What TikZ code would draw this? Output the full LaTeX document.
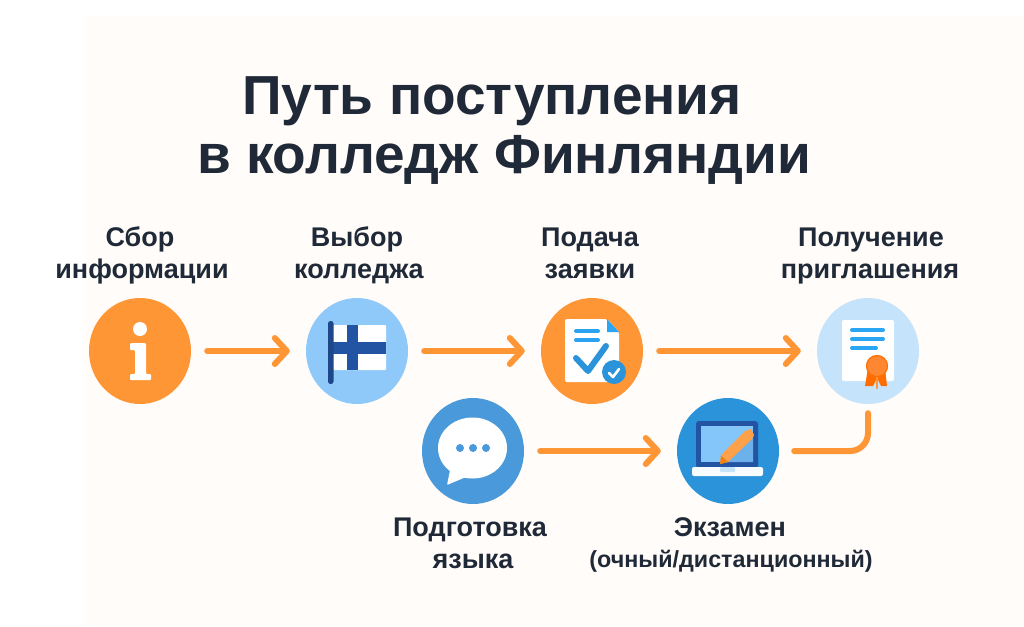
\documentclass[tikz,border=0pt]{standalone}
\usepackage{fontspec}
\setmainfont{Liberation Sans}
\usetikzlibrary{arrows.meta,shapes.geometric,calc}
\definecolor{panel}{HTML}{FFFCF9}
\definecolor{ink}{HTML}{1F2937}
\definecolor{org}{HTML}{FF9636}
\definecolor{skyb}{HTML}{8EC9F9}
\definecolor{pale}{HTML}{C5E3FA}
\definecolor{midb}{HTML}{4A9ADB}
\definecolor{deepb}{HTML}{2B93D9}
\definecolor{navy}{HTML}{2353A3}
\definecolor{linb}{HTML}{2BA6F5}
\tikzset{
  icon/.style={ellipse,minimum width=102pt,minimum height=106pt,inner sep=0pt,draw=none},
  lab/.style={font=\fontsize{27}{32}\selectfont\bfseries,text=ink,inner sep=0pt,anchor=base},
  ttl/.style={font=\fontsize{55}{65}\selectfont\bfseries,text=ink,inner sep=0pt,anchor=base},
  flow/.style={draw=org,line width=6pt,line cap=round,line join=round,shorten <=16pt,shorten >=16pt,-{Straight Barb[length=12pt,width=26pt,line width=6pt,round]}},
  elbow/.style={draw=org,line width=6pt,line cap=round,rounded corners=18pt},
}
\begin{document}
\begin{tikzpicture}[x=1pt,y=-1pt]
\useasboundingbox (0,0) rectangle (1024,626);
\fill[white] (0,0) rectangle (1024,626);
\fill[panel] (84,16) rectangle (1024,626);
\node[ttl] (t1) at (492,114) {Путь поступления};
\node[ttl] (t2) at (504,173) {в колледж Финляндии};
\node[icon,fill=org] (info) at (140,351) {};
\node[icon,fill=skyb] (flag) at (357,351) {};
\node[icon,fill=org] (docu) at (592,351) {};
\node[icon,fill=pale] (cert) at (868,351) {};
\node[icon,fill=midb] (talk) at (473,451) {};
\node[icon,fill=deepb] (exam) at (728,451) {};
\node[lab] (l1a) at (140,246) {Сбор};
\node[lab] (l1b) at (142,278) {информации};
\node[lab] (l2a) at (357,246) {Выбор};
\node[lab] (l2b) at (359,278) {колледжа};
\node[lab] (l3a) at (590,246) {Подача};
\node[lab] (l3b) at (590,278) {заявки};
\node[lab] (l4a) at (871,246) {Получение};
\node[lab] (l4b) at (870,278) {приглашения};
\node[lab] (l5a) at (470,536) {Подготовка};
\node[lab] (l5b) at (473,568) {языка};
\node[lab] (l6a) at (730,536) {Экзамен};
\node[lab,font=\fontsize{23.3}{27}\selectfont\bfseries] (l6b) at (731,567) {(очный/дистанционный)};
% info icon
\fill[white] (140,329) circle (7);
\fill[white,rounded corners=1pt] (130,343) -- (146,343) -- (146,374) -- (151,374) -- (151,380) -- (130,380) -- (130,374) -- (135,374) -- (135,350) -- (130,350) -- cycle;
% flag icon
\fill[white,rounded corners=1pt] (333,325) rectangle (386,370);
\fill[navy] (347,325) rectangle (358,370);
\fill[navy] (333,342) rectangle (386,354);
\fill[navy!85!black,rounded corners=2.5pt] (328,321) rectangle (333.5,384);
% document icon
\fill[white,rounded corners=2pt] (565,319) -- (607,319) -- (619,332) -- (619,382) -- (565,382) -- cycle;
\fill[linb] (607,319) -- (619,332) -- (607,332) -- cycle;
\draw[linb!80!deepb,line width=4pt,line cap=round] (576,331) -- (598,331) (576,340) -- (598,340);
\draw[deepb,line width=6pt,line cap=round,line join=round] (576,358) -- (588,371) -- (606,346);
\fill[deepb] (614,372) circle (12);
\draw[white,line width=2.6pt,line cap=round,line join=round] (609,373) -- (613,377) -- (619,369);
% certificate icon
\fill[white,rounded corners=2pt] (842,320) rectangle (894,381);
\draw[linb,line width=4pt,line cap=round] (852,330) -- (883,330) (852,339) -- (883,339) (852,348) -- (876,348);
\fill[orange!85!red] (868,368) -- (865,386) -- (873,386) -- (877,378) -- (881,386) -- (887,386) -- (885,368) -- cycle;
\draw[org,line width=2.5pt,line cap=round] (877,376) -- (877,388);
\fill[org!90!red] (877,366) circle (11);
\draw[orange!85!red,line width=1pt] (877,366) circle (10.5);
% speech icon
\fill[white] (472.5,448) ellipse (34.5 and 30.5);
\fill[white,rounded corners=1pt] (450,470) -- (447,485) -- (466,477) -- cycle;
\foreach \px in {460,473,486} \fill[midb] (\px,448) circle (4);
% laptop icon
\fill[navy,rounded corners=3pt] (696,421) rectangle (758,468);
\fill[skyb!90!linb] (701,426) rectangle (753,462);
\fill[midb!50!skyb] (753,435) -- (753,462) -- (725,462) -- cycle;
\fill[white!93!skyb,rounded corners=2pt] (692,467) rectangle (763,476);
\fill[pale,rounded corners=1pt] (720,467) rectangle (735,472);
\fill[org!90!white] (720,464) -- (721,455) -- (745,431) -- (751,429) -- (754,435) -- (752,439) -- (728,462) -- cycle;
\draw[orange!80!brown,line width=1pt] (722,457) -- (726,461);
\fill[orange!70!brown] (720,464) -- (721,456) -- (728,462) -- cycle;
% connectors
\draw[flow] (info.east) -- (flag.west);
\draw[flow] (flag.east) -- (docu.west);
\draw[flow] (docu.east) -- (cert.west);
\draw[flow] (talk.east) -- (exam.west);
\draw[elbow] ($(exam.east)+(15,0)$) -- (exam.east -| cert.south) -- ($(cert.south)+(0,9)$);
\end{tikzpicture}
\end{document}
